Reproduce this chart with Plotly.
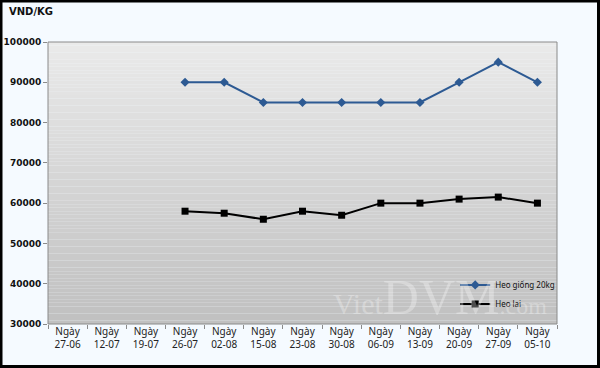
import plotly.graph_objects as go

categories = ["Ngày<br>27-06", "Ngày<br>12-07", "Ngày<br>19-07", "Ngày<br>26-07", "Ngày<br>02-08",
              "Ngày<br>15-08", "Ngày<br>23-08", "Ngày<br>30-08", "Ngày<br>06-09", "Ngày<br>13-09",
              "Ngày<br>20-09", "Ngày<br>27-09", "Ngày<br>05-10"]
heo_giong = [None, None, None, 90000, 90000, 85000, 85000, 85000, 85000, 85000, 90000, 95000, 90000]
heo_lai = [None, None, None, 58000, 57500, 56000, 58000, 57000, 60000, 60000, 61000, 61500, 60000]
y_ticks = [30000, 40000, 50000, 60000, 70000, 80000, 90000, 100000]

W, H = 600, 368
L, R, T, B = 48, 43, 42, 44
pw, ph = W - L - R, H - T - B

fig = go.Figure()
fig.add_trace(go.Scatter(x=categories, y=heo_giong, name="Heo giống 20kg", mode="lines+markers",
                         line=dict(color="#2D5A93", width=2),
                         marker=dict(symbol="diamond", size=7, color="#2D5A93")))
fig.add_trace(go.Scatter(x=categories, y=heo_lai, name="Heo lai", mode="lines+markers",
                         line=dict(color="#000000", width=2),
                         marker=dict(symbol="square", size=7, color="#000000")))

# gradient plot background
shapes = []
n = 80
top = (234, 234, 234)
bot = (192, 192, 192)
for i in range(n):
    f = i / (n - 1)
    c = tuple(int(round(top[k] + (bot[k] - top[k]) * f)) for k in range(3))
    shapes.append(dict(type="rect", xref="x domain", yref="y domain",
                       x0=0, x1=1, y0=1 - (i + 1) / n, y1=1 - i / n,
                       fillcolor="rgb(%d,%d,%d)" % c, line=dict(width=0), layer="below"))
# plot border
shapes.append(dict(type="rect", xref="x domain", yref="y domain", x0=0, x1=1, y0=0, y1=1,
                   line=dict(color="#8A8A8A", width=1), fillcolor="rgba(0,0,0,0)", layer="above"))
# outer frame
shapes.append(dict(type="rect", xref="paper", yref="paper",
                   x0=-(L - 1) / pw, x1=1 + (R - 1.5) / pw,
                   y0=-(B - 1.5) / ph, y1=1 + (T - 1) / ph,
                   line=dict(color="#000000", width=3), fillcolor="rgba(0,0,0,0)", layer="above"))

fig.update_layout(
    width=W, height=H,
    margin=dict(l=L, r=R, t=T, b=B, autoexpand=False),
    paper_bgcolor="#F5FAFF",
    plot_bgcolor="rgba(0,0,0,0)",
    shapes=shapes,
    showlegend=True,
    legend=dict(x=0.80, y=0.19, xanchor="left", yanchor="top",
                bgcolor="rgba(0,0,0,0)", font=dict(family="Noto Sans", size=8, color="#111"),
                itemwidth=30),
    annotations=[
        dict(text="<b>VND/KG</b>", xref="paper", yref="paper", x=-(L - 7) / pw, y=1 + (T - 12) / ph,
             xanchor="left", yanchor="middle", showarrow=False,
             font=dict(family="DejaVu Sans", size=10, color="#111")),
        dict(text="<span style='font-size:30px'>Viet</span><span style='font-size:50px'>DVM</span>"
                  "<span style='font-size:24px'>.com</span>",
             xref="paper", yref="paper", x=(549 - L) / pw, y=-3 / ph,
             xanchor="right", yanchor="bottom", showarrow=False,
             font=dict(family="Liberation Serif", color="rgba(255,255,255,0.3)")),
    ],
    font=dict(family="Noto Sans"),
)

fig.update_xaxes(type="category", tickson="boundaries", ticks="outside", ticklen=4,
                 tickcolor="#8A8A8A", showline=False, showgrid=False, zeroline=False,
                 automargin=False,
                 tickfont=dict(family="Noto Sans", size=10, color="#222"),
                 range=[-0.5, 12.5])
fig.update_yaxes(range=[30000, 100000], tickvals=y_ticks, ticktext=["<b>%d</b>" % v for v in y_ticks],
                 ticks="outside", ticklen=4, tickcolor="#8A8A8A", showline=False, showgrid=False,
                 zeroline=False, automargin=False,
                 tickfont=dict(family="DejaVu Sans", size=9, color="#111"))

fig.write_html("out.html", config={"displayModeBar": False},
               post_script="document.body.style.margin='0';document.body.style.overflow='hidden';")
